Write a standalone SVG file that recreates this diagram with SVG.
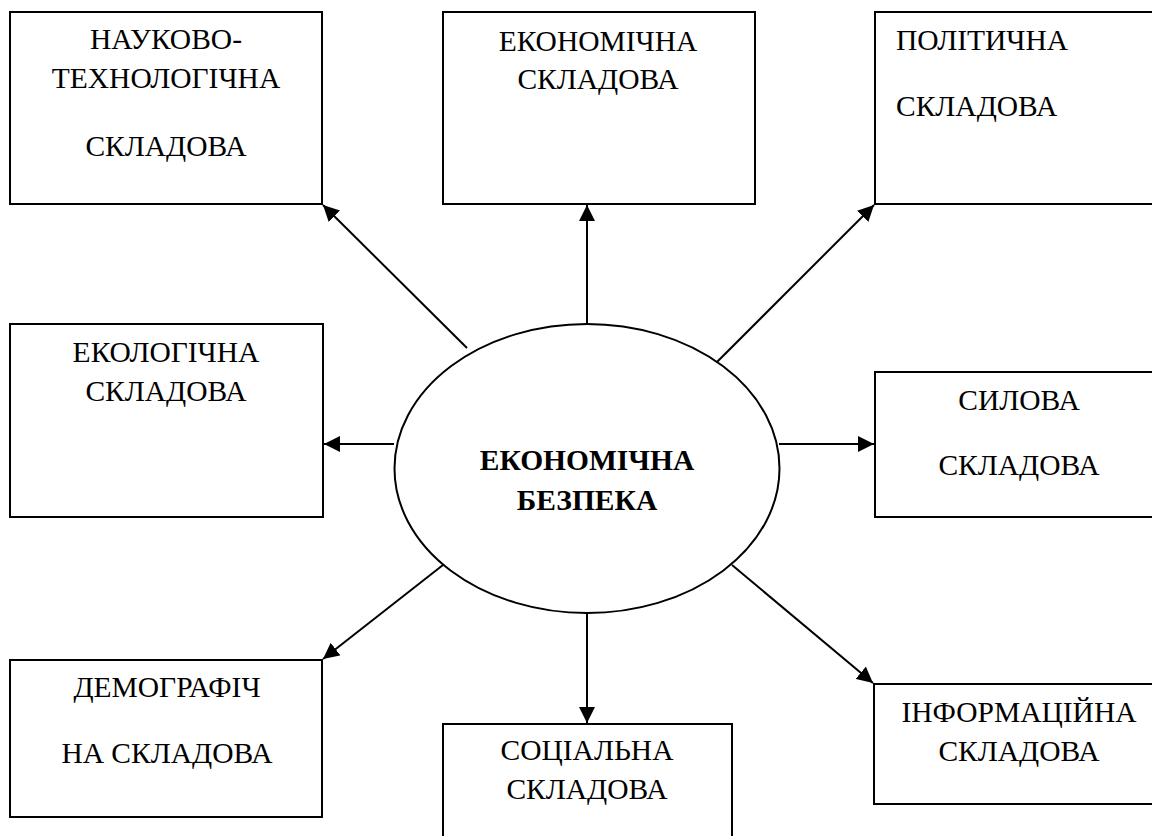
<svg xmlns="http://www.w3.org/2000/svg" width="1152" height="836" viewBox="0 0 1152 836" font-family="'Liberation Serif', 'DejaVu Serif', serif">
<style>
.box{fill:#fff;stroke:#000;stroke-width:2}
.t{font-family:'Liberation Serif','DejaVu Serif',serif;font-size:29.5px;fill:#000;text-anchor:middle}
.l{text-anchor:start}
.b{font-weight:bold}
.c{stroke:#000;stroke-width:2;fill:none;marker-end:url(#ah)}
</style>
<defs>
<marker id="ah" viewBox="0 0 16 16" refX="16" refY="8" markerWidth="16" markerHeight="16" markerUnits="userSpaceOnUse" orient="auto">
<path d="M0,0 L16,8 L0,16 Z" fill="#000"/>
</marker>
</defs>
<rect width="1152" height="836" fill="#fff"/>
<g id="connectors">
<line class="c" x1="467" y1="348" x2="323" y2="205"/>
<line class="c" x1="587" y1="323" x2="587" y2="205"/>
<line class="c" x1="707" y1="372" x2="874" y2="205"/>
<line class="c" x1="394" y1="444" x2="324" y2="444"/>
<line class="c" x1="779" y1="444" x2="874" y2="444"/>
<line class="c" x1="443" y1="565" x2="323" y2="659"/>
<line class="c" x1="587" y1="613" x2="587" y2="723"/>
<line class="c" x1="732" y1="565" x2="873" y2="683"/>
</g>
<g id="center">
<ellipse cx="587" cy="468.5" rx="192.5" ry="144.5" fill="#fff" stroke="#000" stroke-width="2"/>
<text class="t b" x="587" y="470">ЕКОНОМІЧНА</text>
<text class="t b" x="587" y="510">БЕЗПЕКА</text>
</g>
<g id="n-nauk">
<rect class="box" x="10" y="12" width="312" height="192"/>
<text class="t" x="166" y="49">НАУКОВО-</text>
<text class="t" x="166" y="88">ТЕХНОЛОГІЧНА</text>
<text class="t" x="166" y="156">СКЛАДОВА</text>
</g>
<g id="n-ekon">
<rect class="box" x="443" y="12" width="312" height="192"/>
<text class="t" x="598" y="51">ЕКОНОМІЧНА</text>
<text class="t" x="598" y="89">СКЛАДОВА</text>
</g>
<g id="n-polit">
<rect class="box" x="875" y="12" width="290" height="192"/>
<text class="t l" x="896" y="50">ПОЛІТИЧНА</text>
<text class="t l" x="896" y="116">СКЛАДОВА</text>
</g>
<g id="n-ekol">
<rect class="box" x="10" y="324" width="313" height="193"/>
<text class="t" x="166" y="362">ЕКОЛОГІЧНА</text>
<text class="t" x="166" y="401">СКЛАДОВА</text>
</g>
<g id="n-sylova">
<rect class="box" x="875" y="372" width="290" height="145"/>
<text class="t" x="1019" y="410">СИЛОВА</text>
<text class="t" x="1019" y="475">СКЛАДОВА</text>
</g>
<g id="n-demo">
<rect class="box" x="10" y="660" width="312" height="157"/>
<text class="t" x="167" y="697">ДЕМОГРАФІЧ</text>
<text class="t" x="167" y="763">НА СКЛАДОВА</text>
</g>
<g id="n-soc">
<rect class="box" x="443" y="724" width="289" height="130"/>
<text class="t" x="587" y="760">СОЦІАЛЬНА</text>
<text class="t" x="587" y="799">СКЛАДОВА</text>
</g>
<g id="n-inform">
<rect class="box" x="874" y="684" width="291" height="120"/>
<text class="t" x="1019" y="722">ІНФОРМАЦІЙНА</text>
<text class="t" x="1019" y="761">СКЛАДОВА</text>
</g>
</svg>
